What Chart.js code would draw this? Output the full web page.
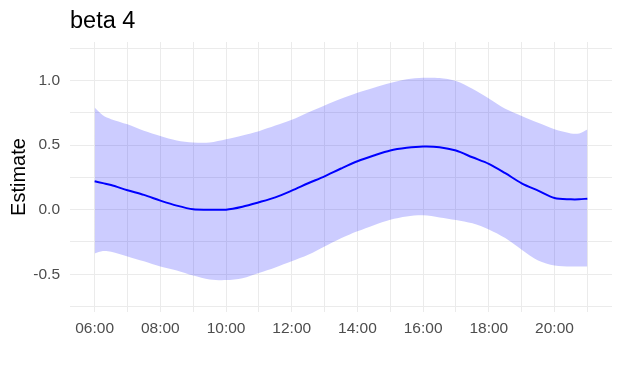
<!DOCTYPE html>
<html>
<head>
<meta charset="utf-8">
<script src="https://cdn.jsdelivr.net/npm/chart.js@4/dist/chart.umd.min.js"></script>
<style>
  html, body { margin: 0; padding: 0; background: #ffffff; }
  #wrap { width: 622px; height: 372px; }
</style>
</head>
<body>
<div id="wrap"><canvas id="c" width="622" height="372"></canvas></div>
<script>
const titleText = 'beta 4';
const yTitle = 'Estimate';
const hours = [6, 6.25, 6.5, 7, 7.5, 8, 8.5, 9, 9.5, 10, 10.5, 11, 11.5, 12, 12.5, 13, 13.5, 14, 14.5, 15, 15.5, 16, 16.5, 17, 17.5, 18, 18.5, 19, 19.5, 20, 20.5, 20.75, 21];
const estimate = [0.22, 0.205, 0.19, 0.15, 0.114, 0.07, 0.031, 0.003, 0.0, 0.0, 0.023, 0.057, 0.095, 0.147, 0.204, 0.258, 0.318, 0.374, 0.419, 0.458, 0.478, 0.488, 0.483, 0.457, 0.405, 0.354, 0.282, 0.204, 0.147, 0.09, 0.08, 0.08, 0.085];
const upper = [0.79, 0.73, 0.70, 0.66, 0.61, 0.57, 0.535, 0.52, 0.52, 0.545, 0.574, 0.607, 0.65, 0.695, 0.752, 0.806, 0.858, 0.905, 0.943, 0.98, 1.008, 1.02, 1.018, 0.995, 0.935, 0.86, 0.78, 0.725, 0.672, 0.622, 0.59, 0.59, 0.62];
const lower = [-0.339, -0.32, -0.325, -0.362, -0.40, -0.44, -0.47, -0.51, -0.54, -0.545, -0.53, -0.49, -0.447, -0.40, -0.35, -0.285, -0.222, -0.168, -0.12, -0.078, -0.053, -0.044, -0.06, -0.08, -0.106, -0.153, -0.22, -0.31, -0.393, -0.432, -0.44, -0.44, -0.44];
const xGridHours = [6, 7, 8, 9, 10, 11, 12, 13, 14, 15, 16, 17, 18, 19, 20, 21];
const yGridValues = [-0.75, -0.5, -0.25, 0, 0.25, 0.5, 0.75, 1.0, 1.25];

const pts = arr => hours.map((h, i) => ({ x: h, y: arr[i] }));
const gridColor = '#ebebeb';
const tickColor = '#4d4d4d';
const fam = '"Liberation Sans", Arial, sans-serif';

new Chart(document.getElementById('c'), {
  type: 'line',
  data: {
    datasets: [
      {
        label: 'estimate',
        data: pts(estimate),
        borderColor: '#0000ff',
        borderWidth: 2,
        pointRadius: 0,
        tension: 0.3,
        fill: false,
        order: 0
      },
      {
        label: 'lower',
        data: pts(lower),
        borderWidth: 0,
        borderColor: 'rgba(0,0,0,0)',
        pointRadius: 0,
        tension: 0.3,
        fill: false,
        order: 2
      },
      {
        label: 'upper',
        data: pts(upper),
        borderWidth: 0,
        borderColor: 'rgba(0,0,0,0)',
        backgroundColor: 'rgba(0,0,255,0.2)',
        pointRadius: 0,
        tension: 0.3,
        fill: '-1',
        order: 1
      }
    ]
  },
  options: {
    responsive: false,
    animation: false,
    devicePixelRatio: 1,
    layout: { padding: { left: 0, right: 10, top: 0, bottom: 0 } },
    plugins: {
      legend: { display: false },
      tooltip: { enabled: false },
      title: {
        display: true,
        text: titleText,
        align: 'start',
        fullSize: false,
        color: '#000000',
        font: { family: fam, size: 23.5, weight: 'normal' },
        padding: { top: 7, bottom: 6.8 }
      }
    },
    scales: {
      x: {
        type: 'linear',
        min: 5.25,
        max: 21.75,
        afterBuildTicks: s => { s.ticks = xGridHours.map(v => ({ value: v })); },
        afterFit: s => { s.height = 60; },
        grid: { color: gridColor, lineWidth: 1, drawTicks: false },
        border: { display: false },
        ticks: {
          autoSkip: false,
          maxRotation: 0,
          padding: 7,
          color: tickColor,
          font: { family: fam, size: 15.5 },
          callback: v => (v % 2 === 0 ? String(v).padStart(2, '0') + ':00' : '')
        }
      },
      y: {
        type: 'linear',
        min: -0.792,
        max: 1.297,
        afterBuildTicks: s => { s.ticks = yGridValues.map(v => ({ value: v })); },
        afterFit: s => { s.width = 70; },
        grid: { color: gridColor, lineWidth: 1, drawTicks: false },
        border: { display: false },
        title: {
          display: true,
          text: yTitle,
          color: '#000000',
          font: { family: fam, size: 20 },
          padding: { top: 7, bottom: 0 }
        },
        ticks: {
          padding: 10,
          color: tickColor,
          font: { family: fam, size: 15.5 },
          callback: v => (Math.abs((v * 2) - Math.round(v * 2)) < 1e-9 ? Number(v).toFixed(1) : '')
        }
      }
    }
  }
});
</script>
</body>
</html>
